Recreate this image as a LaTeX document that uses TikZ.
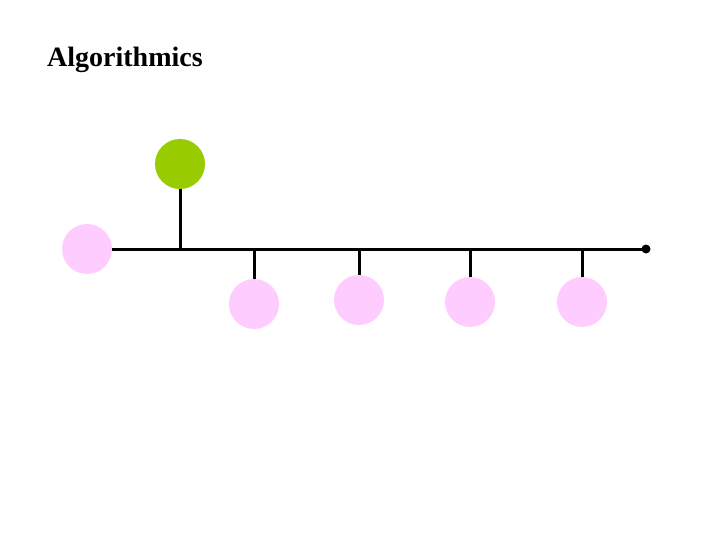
\documentclass[tikz,border=0pt]{standalone}
\usepackage{fontspec}
\setmainfont{Liberation Serif}
\usetikzlibrary{calc}
\definecolor{leafGreen}{RGB}{153,204,0}
\definecolor{nodePink}{RGB}{255,204,255}
\tikzset{
  ball/.style={circle,minimum size=50pt,inner sep=0pt},
  wire/.style={line width=3pt},
}
\begin{document}
\begin{tikzpicture}[x=1pt,y=-1pt]
  \useasboundingbox (0,0) rectangle (720,540);
  \def\busy{249}
  \node[anchor=base west,font=\bfseries\fontsize{28}{28}\selectfont,inner sep=0pt] (title) at (47,66.5) {Algorithmics};
  \node[ball,fill=nodePink] (root) at (87,249) {};
  \node[ball,fill=leafGreen] (head) at (180,164) {};
  \coordinate (busend) at (646,\busy);
  \draw[wire] (root.east) -- (busend);
  \fill (busend) circle (4.5);
  \draw[wire] (head.south) -- (head.south |- busend);
  \foreach \i/\xp/\yp in {1/254/304,2/359/300,3/470/302,4/582/302}{
    \node[ball,fill=nodePink] (kid\i) at (\xp,\yp) {};
    \draw[wire] (kid\i.north |- busend) -- (kid\i.north);
  }
\end{tikzpicture}
\end{document}
